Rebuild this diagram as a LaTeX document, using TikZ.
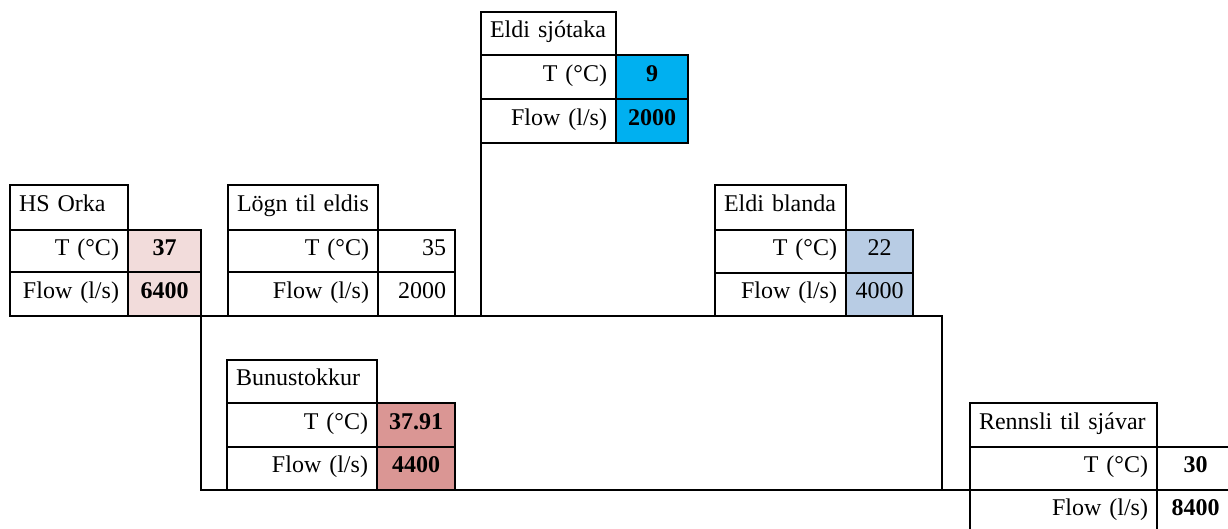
\documentclass[tikz,border=0pt]{standalone}
\usepackage{fontspec}
\setmainfont{Liberation Serif}
\definecolor{pinkc}{HTML}{F2DCDB}
\definecolor{bluec}{HTML}{00B0F0}
\definecolor{lbluec}{HTML}{B8CCE4}
\definecolor{rosec}{HTML}{DA9694}
\tikzset{
  cell/.style={draw, line width=2pt, outer sep=0pt, inner xsep=9pt, inner ysep=0pt,
    anchor=north west, text height=16pt, text depth=8pt,
    font=\fontsize{24}{28}\selectfont},
  boldval/.style={font=\fontsize{24}{28}\selectfont\bfseries, align=center},
  plainval/.style={align=center},
  lab/.style={align=right},
  head/.style={align=left},
  pipe/.style={line width=2pt, line cap=rect},
}
\newcommand\tcell[7]{%
  \pgfmathsetmacro\tw{#4-#2-18}%
  \pgfmathsetmacro\th{#5-#3}%
  \node[cell, #6, text width=\tw pt, minimum height=\th pt] (#1) at (#2,#3) {\mbox{#7}};}
\begin{document}
\begin{tikzpicture}[x=1pt, y=-1pt]
\useasboundingbox (0,0) rectangle (1228,528);
\clip (0,0) rectangle (1228,528);
\fill[white] (0,0) rectangle (1228,528);
% HS Orka
\tcell{hsH}{10}{185}{128}{230}{head}{HS Orka}
\tcell{hsTl}{10}{230}{128}{272}{lab}{T (\textdegree C)}
\tcell{hsTv}{128}{230}{201}{272}{boldval, fill=pinkc}{37}
\tcell{hsFl}{10}{272}{128}{316}{lab}{Flow (l/s)}
\tcell{hsFv}{128}{272}{201}{316}{boldval, fill=pinkc}{6400}
% Lögn til eldis
\tcell{lgH}{228}{185}{378}{230}{head}{Lögn til eldis}
\tcell{lgTl}{228}{230}{378}{272}{lab}{T (\textdegree C)}
\tcell{lgTv}{378}{230}{455}{272}{lab}{35}
\tcell{lgFl}{228}{272}{378}{316}{lab}{Flow (l/s)}
\tcell{lgFv}{378}{272}{455}{316}{lab}{2000}
% Eldi sjótaka
\tcell{sjH}{481}{12}{616}{55}{head}{Eldi sjótaka}
\tcell{sjTl}{481}{55}{616}{99}{lab}{T (\textdegree C)}
\tcell{sjTv}{616}{55}{688}{99}{boldval, fill=bluec}{9}
\tcell{sjFl}{481}{99}{616}{143}{lab}{Flow (l/s)}
\tcell{sjFv}{616}{99}{688}{143}{boldval, fill=bluec}{2000}
% Eldi blanda
\tcell{ebH}{715}{185}{846}{230}{head}{Eldi blanda}
\tcell{ebTl}{715}{230}{846}{273}{lab}{T (\textdegree C)}
\tcell{ebTv}{846}{230}{913}{273}{plainval, fill=lbluec}{22}
\tcell{ebFl}{715}{273}{846}{316}{lab}{Flow (l/s)}
\tcell{ebFv}{846}{273}{913}{316}{plainval, fill=lbluec}{4000}
% Bunustokkur
\tcell{buH}{227}{360}{377}{403}{head}{Bunustokkur}
\tcell{buTl}{227}{403}{377}{447}{lab}{T (\textdegree C)}
\tcell{buTv}{377}{403}{455}{447}{boldval, fill=rosec}{37.91}
\tcell{buFl}{227}{447}{377}{490}{lab}{Flow (l/s)}
\tcell{buFv}{377}{447}{455}{490}{boldval, fill=rosec}{4400}
% Rennsli til sjávar
\tcell{rsH}{970}{403}{1157}{447}{head}{Rennsli til sjávar}
\tcell{rsTl}{970}{447}{1157}{490}{lab}{T (\textdegree C)}
\tcell{rsTv}{1157}{447}{1234}{490}{boldval}{30}
\tcell{rsFl}{970}{490}{1157}{533}{lab}{Flow (l/s)}
\tcell{rsFv}{1157}{490}{1234}{533}{boldval}{8400}
% pipes
\coordinate (jr) at (942,316);
\draw[pipe] (sjFl.south west) -- (sjFl.south west |- hsFv.south east);
\draw[pipe] (hsFv.south east) -- (jr) -- (jr |- rsTl.south west);
\draw[pipe] (hsFv.south east) -- (hsFv.south east |- rsTl.south west) -- (rsTl.south west);
\end{tikzpicture}
\end{document}
